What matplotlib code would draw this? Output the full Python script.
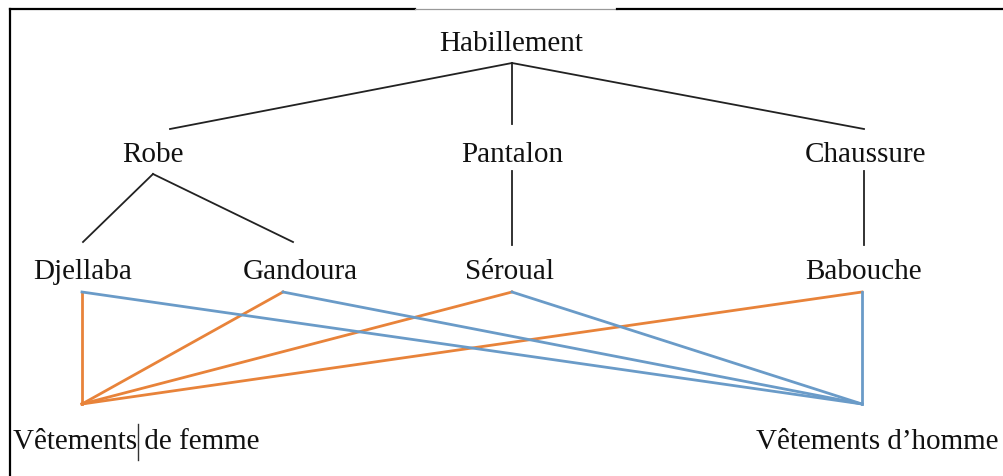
import matplotlib.pyplot as plt

# node labels
root = 'Habillement'
level1 = ['Robe', 'Pantalon', 'Chaussure']
level2 = ['Djellaba', 'Gandoura', 'Séroual', 'Babouche']
targets = ['Vêtements de femme', 'Vêtements d\u2019homme']

# tree links (parent -> child)
tree_links = [('Habillement', 'Robe'), ('Habillement', 'Pantalon'), ('Habillement', 'Chaussure'),
              ('Robe', 'Djellaba'), ('Robe', 'Gandoura'),
              ('Pantalon', 'Séroual'), ('Chaussure', 'Babouche')]

# every garment goes to both targets
femme_links = level2
homme_links = level2

# layout in pixels (x, y)
label_pos = {'Habillement': (511, 44), 'Robe': (153, 155), 'Pantalon': (512, 155),
             'Chaussure': (866, 155), 'Djellaba': (83, 272), 'Gandoura': (300, 272),
             'Séroual': (510, 272), 'Babouche': (864, 272)}
top_anchor = {'Robe': (170, 130), 'Pantalon': (512, 78), 'Chaussure': (864, 130),
              'Djellaba': (83, 243), 'Gandoura': (293, 243), 'Séroual': (512, 246),
              'Babouche': (864, 246)}
bottom_anchor = {'Habillement': (512, 64), 'Robe': (153, 175), 'Pantalon': (512, 172),
                 'Chaussure': (864, 172)}
color_anchor = {'Djellaba': (82, 293), 'Gandoura': (283, 293), 'Séroual': (512, 293),
                'Babouche': (862, 293)}
femme_pt = (82, 405)
homme_pt = (862, 405)

orange = '#E8833A'
blue = '#6A9BC8'

fig = plt.figure(figsize=(10.04, 4.77), dpi=100)
ax = fig.add_axes([0, 0, 1, 1])
ax.set_xlim(0, 1004)
ax.set_ylim(477, 0)
ax.axis('off')

# frame (left and top)
ax.plot([10, 10], [10, 477], color='black', lw=1.6)
ax.plot([10, 415], [10, 10], color='black', lw=1.6)
ax.plot([415, 617], [10, 10], color='#999999', lw=0.9)
ax.plot([617, 1004], [10, 10], color='black', lw=1.6)

for parent, child in tree_links:
    x0, y0 = bottom_anchor[parent]
    x1, y1 = top_anchor[child]
    if parent == 'Habillement' and child == 'Pantalon':
        x1, y1 = 512, 125
    ax.plot([x0, x1], [y0, y1], color='#222222', lw=1.3)

for name in femme_links:
    x, y = color_anchor[name]
    ax.plot([x, femme_pt[0]], [y, femme_pt[1]], color=orange, lw=2)
for name in homme_links:
    x, y = color_anchor[name]
    ax.plot([x, homme_pt[0]], [y, homme_pt[1]], color=blue, lw=2)

fs = 21
for name, (x, y) in label_pos.items():
    ax.text(x, y, name, ha='center', va='center', fontsize=fs,
            family='Liberation Serif', color='#111111')

ax.text(13, 442, targets[0], ha='left', va='center', fontsize=fs,
        family='Liberation Serif', color='#111111')
ax.text(999, 442, targets[1], ha='right', va='center', fontsize=fs,
        family='Liberation Serif', color='#111111')
# text cursor mark
ax.plot([138, 138], [425, 461], color='#333333', lw=1)

fig.savefig('out.png', dpi=100)
